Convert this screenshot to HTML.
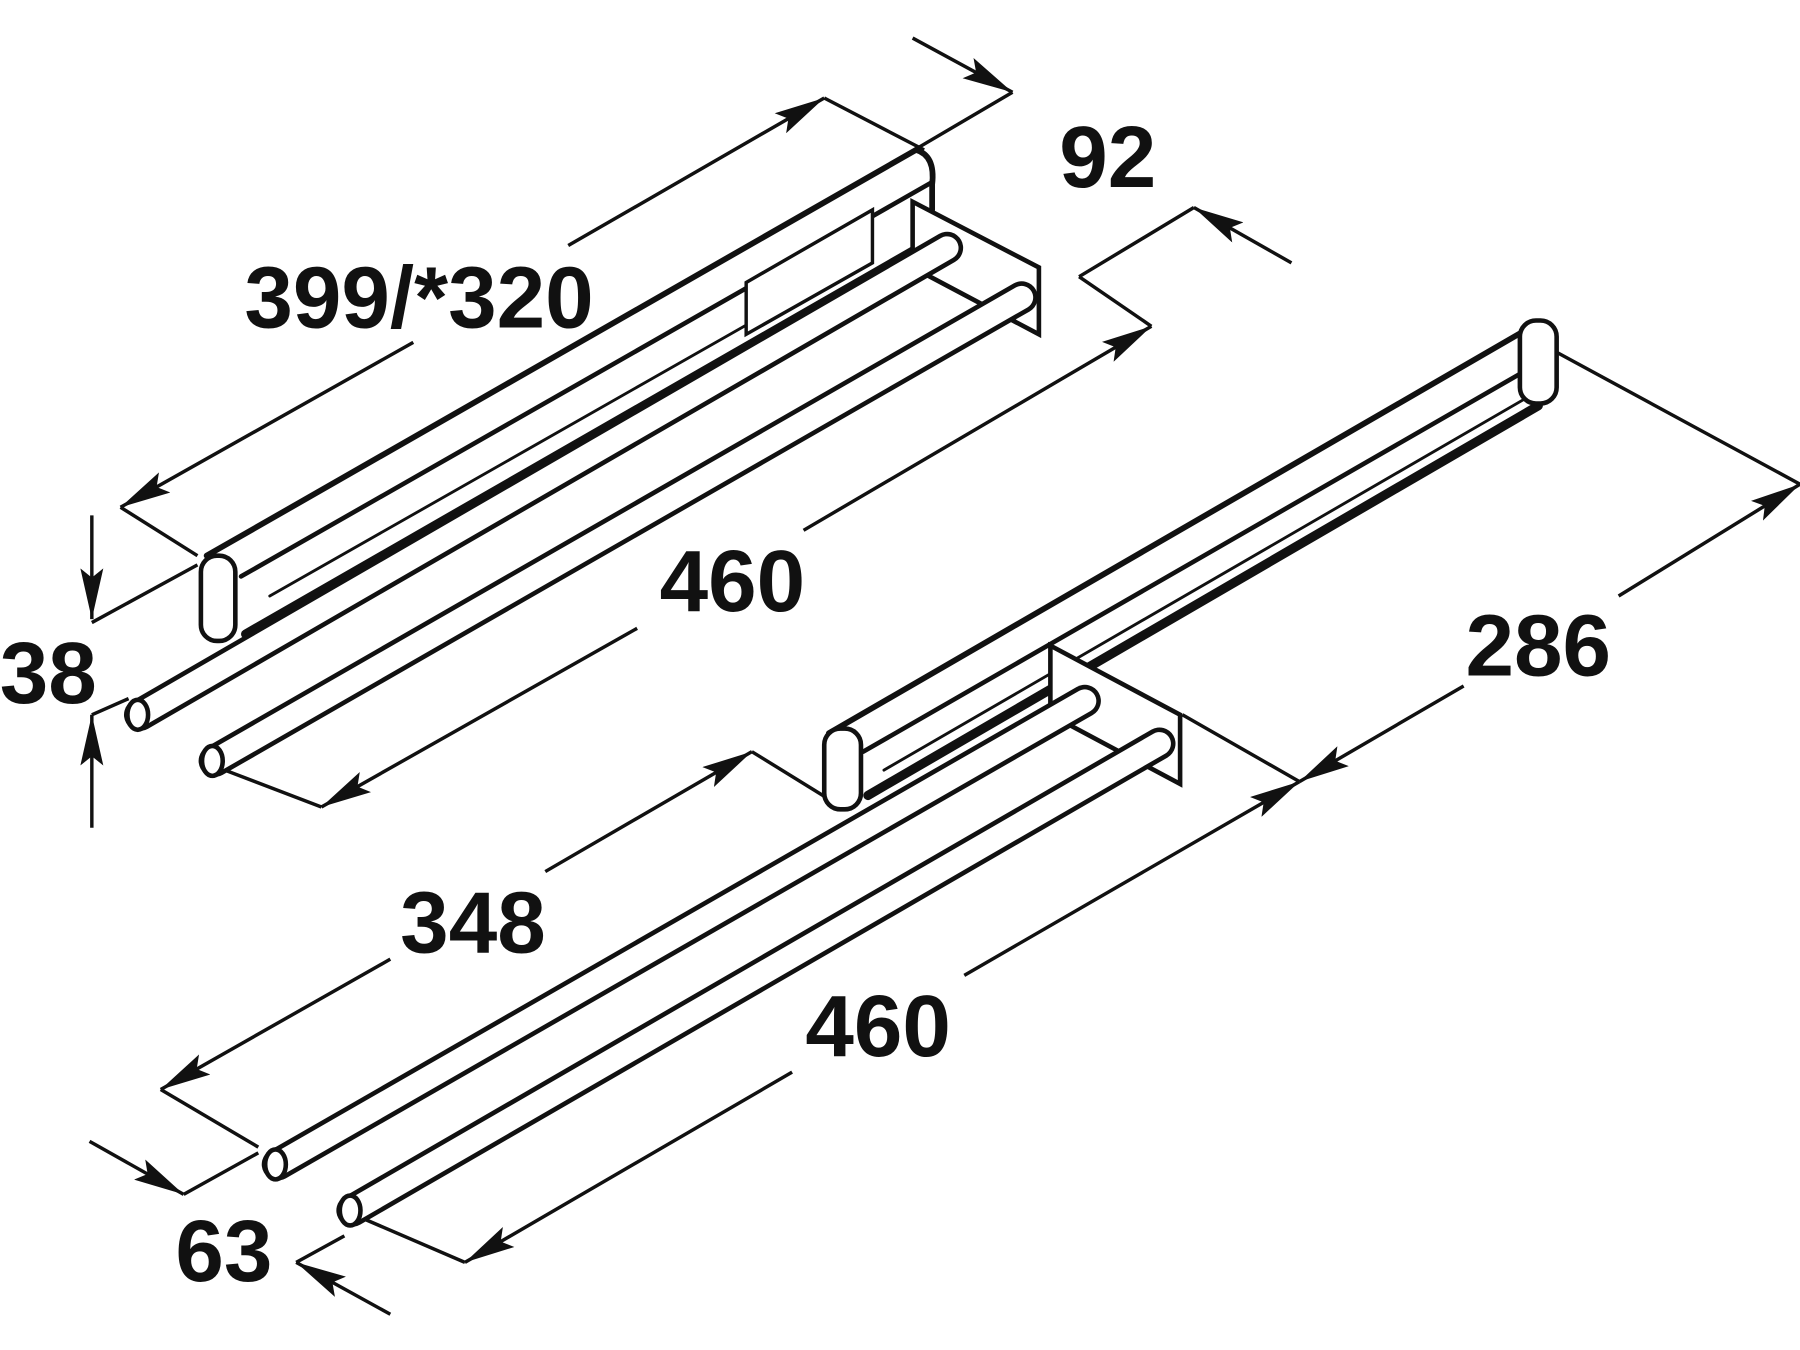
<!DOCTYPE html>
<html><head><meta charset="utf-8"><style>
html,body{margin:0;padding:0;background:#fff;}
svg{display:block}
text{font-family:"Liberation Sans",sans-serif;font-weight:bold;fill:#111;}
</style></head><body>
<svg width="1800" height="1350" viewBox="0 0 1568 1171" preserveAspectRatio="none" xmlns="http://www.w3.org/2000/svg">
<defs>
<marker id="a" viewBox="0 0 44 20" refX="44" refY="10" markerWidth="44" markerHeight="20" markerUnits="userSpaceOnUse" orient="auto"><path d="M0,0 L44,10 L0,20 L8,10 z" fill="#111"/></marker>
</defs>
<g stroke="#111" stroke-width="3" fill="none">
<line x1="105" y1="440" x2="172" y2="482"/>
<line x1="718" y1="85" x2="805" y2="130"/>
<line x1="360" y1="297" x2="105" y2="440" marker-end="url(#a)"/>
<line x1="495" y1="213" x2="718" y2="85" marker-end="url(#a)"/>
<line x1="795" y1="33" x2="882" y2="80" marker-end="url(#a)"/>
<line x1="800" y1="128" x2="882" y2="80"/>
<line x1="940" y1="240" x2="1040" y2="180"/>
<line x1="940" y1="240" x2="1003" y2="283"/>
<line x1="1125" y1="228" x2="1040" y2="180" marker-end="url(#a)"/>
<line x1="700" y1="460" x2="1003" y2="283" marker-end="url(#a)"/>
<line x1="555" y1="545" x2="280" y2="700" marker-end="url(#a)"/>
<line x1="180" y1="662" x2="280" y2="700"/>
<line x1="80" y1="447" x2="80" y2="537" marker-end="url(#a)"/>
<line x1="80" y1="718" x2="80" y2="620" marker-end="url(#a)"/>
<line x1="80" y1="540" x2="172" y2="490"/>
<line x1="80" y1="620" x2="112" y2="606"/>
<line x1="1355" y1="305" x2="1568" y2="420"/>
<line x1="1030" y1="620" x2="1132" y2="678"/>
<line x1="1410" y1="517" x2="1568" y2="420" marker-end="url(#a)"/>
<line x1="1275" y1="595" x2="1132" y2="678" marker-end="url(#a)"/>
<line x1="475" y1="756" x2="655" y2="652" marker-end="url(#a)"/>
<line x1="340" y1="832" x2="140" y2="945" marker-end="url(#a)"/>
<line x1="655" y1="652" x2="725" y2="695"/>
<line x1="140" y1="945" x2="225" y2="995"/>
<line x1="840" y1="846" x2="1132" y2="678" marker-end="url(#a)"/>
<line x1="690" y1="930" x2="405" y2="1095" marker-end="url(#a)"/>
<line x1="300" y1="1050" x2="405" y2="1095"/>
<line x1="78" y1="990" x2="160" y2="1036" marker-end="url(#a)"/>
<line x1="160" y1="1036" x2="225" y2="1000"/>
<line x1="340" y1="1140" x2="258" y2="1095" marker-end="url(#a)"/>
<line x1="258" y1="1095" x2="300" y2="1072"/>
</g>
<g stroke-linecap="round" stroke="#111">
<polygon points="180,482 800,130 812,160 812,207 212,556 210,500" fill="#fff" stroke="none"/>
<line x1="180" y1="482" x2="798" y2="130" stroke-width="5"/>
<line x1="210" y1="500" x2="812" y2="158" stroke-width="4"/>
<line x1="235" y1="517" x2="650" y2="282" stroke-width="2.5"/>
<line x1="214" y1="550" x2="800" y2="215" stroke-width="8"/>
<path d="M798,130 Q815,135 812,160 L812,182" fill="none" stroke-width="5"/>
<polygon points="795,175 905,232 905,290 795,232" fill="#fff" stroke-width="4"/>
<polygon points="650,245 760,182 760,228 650,290" fill="#fff" stroke-width="3"/>
<line x1="122" y1="620" x2="825" y2="215" stroke-width="28"/>
<line x1="122" y1="620" x2="825" y2="215" stroke="#fff" stroke-width="20"/>
<line x1="187" y1="660" x2="890" y2="258" stroke-width="28"/>
<line x1="187" y1="660" x2="890" y2="258" stroke="#fff" stroke-width="20"/>
<ellipse cx="120" cy="620" rx="9" ry="13" fill="#fff" stroke-width="4"/>
<ellipse cx="185" cy="660" rx="9" ry="13" fill="#fff" stroke-width="4"/>
<rect x="175" y="482" width="30" height="74" rx="14" fill="#fff" stroke-width="4"/>
<polygon points="720,635 1340,282 1356,300 1356,345 752,700" fill="#fff" stroke="none"/>
<line x1="722" y1="636" x2="1340" y2="280" stroke-width="5"/>
<line x1="752" y1="652" x2="1356" y2="306" stroke-width="4"/>
<line x1="770" y1="668" x2="1330" y2="345" stroke-width="2.5"/>
<line x1="756" y1="690" x2="1340" y2="352" stroke-width="8"/>
<polygon points="915,560 1028,620 1028,680 915,620" fill="#fff" stroke-width="4"/>
<line x1="242" y1="1010" x2="945" y2="608" stroke-width="28"/>
<line x1="242" y1="1010" x2="945" y2="608" stroke="#fff" stroke-width="20"/>
<line x1="307" y1="1050" x2="1010" y2="645" stroke-width="28"/>
<line x1="307" y1="1050" x2="1010" y2="645" stroke="#fff" stroke-width="20"/>
<ellipse cx="240" cy="1010" rx="9" ry="13" fill="#fff" stroke-width="4"/>
<ellipse cx="305" cy="1050" rx="9" ry="13" fill="#fff" stroke-width="4"/>
<rect x="718" y="632" width="32" height="70" rx="14" fill="#fff" stroke-width="4"/>
<rect x="1324" y="278" width="32" height="72" rx="14" fill="#fff" stroke-width="4"/>
</g>
<text x="365" y="284" font-size="76" text-anchor="middle">399/*320</text>
<text x="965" y="162" font-size="76" text-anchor="middle">92</text>
<text x="638" y="530" font-size="76" text-anchor="middle">460</text>
<text x="42" y="610" font-size="76" text-anchor="middle">38</text>
<text x="1340" y="586" font-size="76" text-anchor="middle">286</text>
<text x="412" y="826" font-size="76" text-anchor="middle">348</text>
<text x="765" y="916" font-size="76" text-anchor="middle">460</text>
<text x="195" y="1111" font-size="76" text-anchor="middle">63</text>
</svg>
</body></html>
